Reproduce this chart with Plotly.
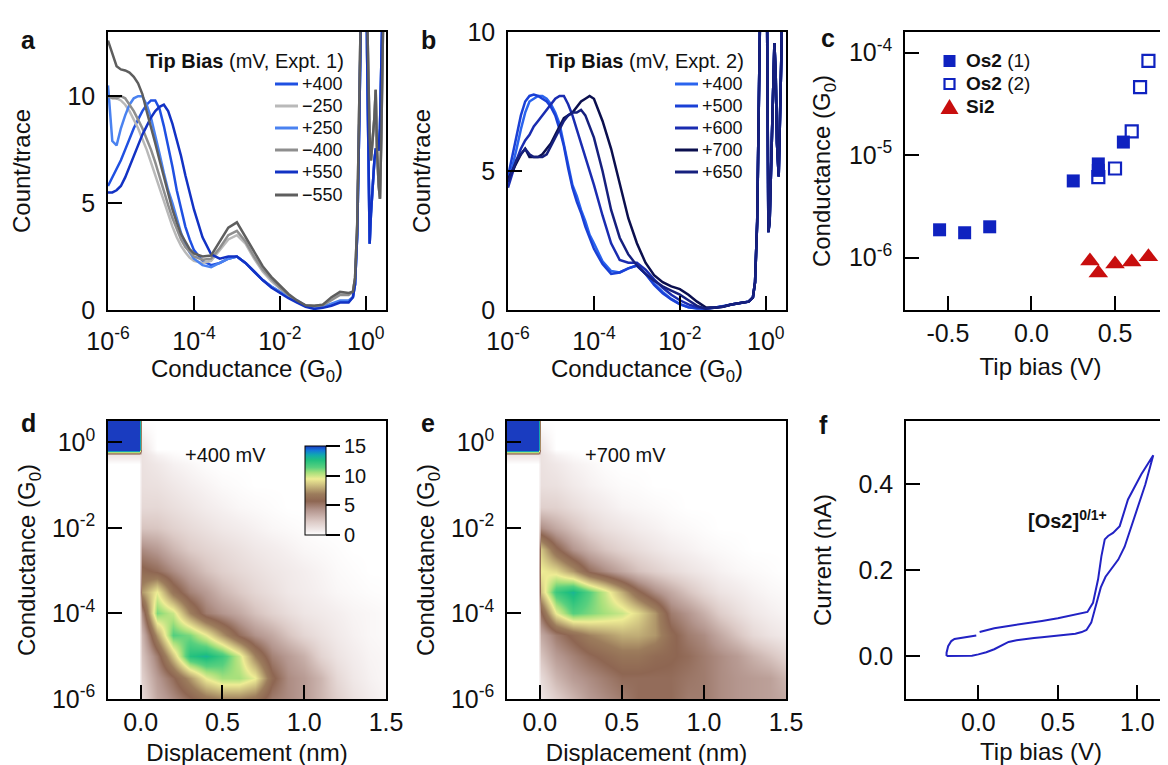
import plotly.graph_objects as go

FONT = "Liberation Sans, Arial, sans-serif"
W, H = 1168, 765

# ---------------- Panel a / b : conductance histograms ----------------
A_LOG = [-6.0, -5.9, -5.8, -5.7, -5.6, -5.5, -5.4, -5.3, -5.2, -5.1, -5.0, -4.9, -4.8, -4.7, -4.6, -4.5, -4.4, -4.3, -4.2, -4.1, -4.0,
         -3.8, -3.6, -3.4, -3.2, -3.0, -2.8, -2.6, -2.4, -2.2, -2.0, -1.8, -1.6, -1.4, -1.2, -1.0, -0.8, -0.6, -0.4,
         -0.3, -0.25, -0.2, -0.15, -0.1, -0.05, 0.0, 0.03, 0.06, 0.09, 0.12, 0.16, 0.2, 0.23, 0.26, 0.3, 0.33, 0.36, 0.4, 0.47]

A_BLUE_TAIL = [0.6, 1.2, 3.5, 9, 16, 22, 20, 12, 6, 3.1, 4.5, 6, 7, 7.5, 7.5, 7.5, 8.5, 11, 15, 22]
A_GRAY_TAIL = [0.85, 1.5, 4, 10, 16, 22, 20, 14, 10, 8, 7, 8, 9, 10.3, 7.5, 5.8, 5.2, 8, 14, 22]

A_P400 = [5.8, 6.2, 6.6, 7.0, 7.5, 8.0, 8.5, 8.9, 9.3, 9.6, 9.8, 9.8, 9.4, 8.6, 7.7, 6.7, 5.6, 4.7, 3.9, 3.3, 2.8,
          2.3, 2.1, 2.2, 2.4, 2.5, 2.2, 1.8, 1.4, 1.1, 0.85, 0.6, 0.4, 0.2, 0.1, 0.15, 0.25, 0.4, 0.4]
A_M250 = [10.0, 10.0, 9.9, 9.8, 9.6, 9.3, 8.9, 8.5, 8.0, 7.5, 6.9, 6.3, 5.6, 5.0, 4.4, 3.9, 3.4, 3.0, 2.7, 2.45, 2.3,
          2.2, 2.3, 2.8, 3.3, 3.5, 3.1, 2.4, 1.8, 1.35, 1.0, 0.65, 0.38, 0.2, 0.2, 0.25, 0.5, 0.75, 0.75]
A_P250 = [10.5, 7.9, 7.7, 8.5, 9.1, 9.6, 9.9, 10.0, 10.0, 9.6, 9.0, 8.2, 7.3, 6.4, 5.6, 5.0, 4.3, 3.6, 3.1, 2.7, 2.4,
          2.1, 2.0, 2.2, 2.4, 2.5, 2.2, 1.8, 1.4, 1.1, 0.85, 0.6, 0.45, 0.2, 0.12, 0.15, 0.3, 0.45, 0.45]
A_M400 = [10.0, 9.9, 9.9, 10.0, 9.9, 9.6, 9.3, 8.9, 8.5, 8.0, 7.5, 6.9, 6.2, 5.5, 4.9, 4.3, 3.8, 3.3, 2.95, 2.7, 2.5,
          2.35, 2.4, 2.9, 3.5, 3.7, 3.2, 2.5, 1.9, 1.45, 1.05, 0.7, 0.4, 0.2, 0.18, 0.22, 0.45, 0.7, 0.7]
A_P550 = [5.5, 5.5, 5.6, 5.8, 6.2, 6.7, 7.2, 7.7, 8.2, 8.6, 9.0, 9.3, 9.5, 9.6, 9.3, 8.7, 8.0, 7.2, 6.3, 5.5, 4.7,
          3.4, 2.6, 2.4, 2.5, 2.5, 2.2, 1.8, 1.4, 1.05, 0.8, 0.55, 0.35, 0.15, 0.05, 0.1, 0.2, 0.35, 0.35]
A_M550 = [12.6, 12.0, 11.4, 11.25, 11.2, 11.1, 10.9, 10.6, 10.1, 9.3, 8.6, 7.8, 7.0, 6.2, 5.4, 4.7, 4.1, 3.55, 3.2, 2.85, 2.65,
          2.5, 2.55, 3.2, 3.85, 4.1, 3.4, 2.7, 2.05, 1.55, 1.15, 0.75, 0.45, 0.22, 0.2, 0.25, 0.6, 0.85, 0.8]

A_NAMES = ["+400", "\u2212250", "+250", "\u2212400", "+550", "\u2212550"]
A_COLORS = ["#1f50e2", "#b9b9b9", "#4a82f0", "#8e8e8e", "#1232c4", "#5e5e5e"]

B_TAIL = [0.45, 1.0, 3.2, 8.5, 15, 20, 18, 9, 2.8, 3.2, 5, 8, 9.6, 8.5, 6, 4.8, 6.5, 9, 13, 18]
B_P400 = [4.5, 5.1, 5.8, 6.5, 7.1, 7.5, 7.6, 7.7, 7.7, 7.6, 7.4, 7.1, 6.7, 6.0, 5.3, 4.5, 4.1, 3.6, 3.2, 2.7, 2.4,
          1.75, 1.4, 1.35, 1.5, 1.6, 1.3, 0.95, 0.65, 0.4, 0.22, 0.1, 0.06, 0.05, 0.08, 0.15, 0.2, 0.25, 0.3]
B_P500 = [4.8, 5.5, 6.3, 7.0, 7.5, 7.7, 7.75, 7.7, 7.6, 7.5, 7.3, 7.0, 6.5, 5.9, 5.1, 4.4, 3.9, 3.5, 3.0, 2.6, 2.2,
          1.65, 1.3, 1.35, 1.5, 1.6, 1.3, 0.9, 0.6, 0.38, 0.2, 0.1, 0.05, 0.05, 0.08, 0.13, 0.2, 0.25, 0.3]
B_P600 = [4.4, 4.9, 5.4, 5.8, 6.1, 6.3, 6.6, 6.8, 7.0, 7.2, 7.4, 7.6, 7.7, 7.7, 7.4, 7.0, 6.5, 6.0, 5.5, 5.0, 4.5,
          3.4, 2.4, 1.8, 1.7, 1.7, 1.45, 1.1, 0.8, 0.55, 0.35, 0.2, 0.1, 0.05, 0.08, 0.12, 0.2, 0.25, 0.3]
B_P700 = [4.7, 5.0, 5.3, 5.6, 5.8, 5.5, 5.5, 5.5, 5.6, 5.8, 6.0, 6.3, 6.6, 6.9, 7.0, 7.1, 7.3, 7.5, 7.6, 7.7, 7.6,
          6.8, 5.8, 4.5, 3.3, 2.4, 1.7, 1.25, 1.0, 0.85, 0.75, 0.55, 0.3, 0.1, 0.08, 0.12, 0.2, 0.25, 0.3]
B_P650 = [4.6, 5.0, 5.4, 5.6, 5.8, 5.6, 5.5, 5.5, 5.5, 5.6, 5.9, 6.2, 6.5, 6.8, 7.0, 7.1, 7.1, 7.2, 7.0, 6.6, 6.2,
          5.0, 3.6, 2.6, 2.0, 1.6, 1.3, 1.05, 0.85, 0.7, 0.55, 0.35, 0.15, 0.05, 0.08, 0.12, 0.2, 0.25, 0.3]
B_NAMES = ["+400", "+500", "+600", "+700", "+650"]
B_COLORS = ["#2a64ee", "#1a40d6", "#1a2cb0", "#0b0f4e", "#16207e"]

# ---------------- Panel c : peak conductance vs bias ----------------
C_OS1_V = [-0.55, -0.40, -0.25, 0.25, 0.40, 0.40, 0.55]
C_OS1_G = [1.87e-6, 1.75e-6, 2.0e-6, 5.6e-6, 8.2e-6, 7.1e-6, 1.34e-5]
C_OS2_V = [0.40, 0.50, 0.60, 0.65, 0.70]
C_OS2_G = [6.1e-6, 7.4e-6, 1.7e-5, 4.6e-5, 8.3e-5]
C_SI_V = [0.35, 0.40, 0.50, 0.60, 0.70]
C_SI_G = [9.3e-7, 7.1e-7, 8.7e-7, 9.1e-7, 1.02e-6]
C_NAMES = ["<b>Os2</b> (1)", "<b>Os2</b> (2)", "<b>Si2</b>"]

# ---------------- Panels d / e : 2D histograms (coarse grid) ----------------
D_X = [-0.2, -0.1, -0.01, 0.01, 0.1, 0.2, 0.3, 0.4, 0.5, 0.6, 0.7, 0.8, 0.9, 1.0, 1.1, 1.2, 1.3, 1.4, 1.5]
D_LOGG = [-6.0, -5.5, -5.0, -4.5, -4.0, -3.5, -3.0, -2.5, -2.0, -1.5, -1.0, -0.5, -0.3, -0.15, 0.5]
D_Z = [
    [0, 0, 0, 1.5, 3.5, 4.5, 5.5, 6.5, 7, 7, 6.5, 5, 4.5, 4, 3, 2, 1.2, 0.7, 0.4],
    [0, 0, 0, 2, 4, 5.5, 7.5, 9.5, 10.5, 10.5, 9.5, 6, 4.5, 4, 3, 1.6, 0.9, 0.5, 0.3],
    [0, 0, 0, 2.5, 5, 8.5, 12.5, 13, 12, 10, 7, 4.8, 4, 3.2, 1.8, 1.1, 0.7, 0.4, 0.3],
    [0, 0, 0, 3, 7.5, 11.5, 11, 9.5, 7.5, 5.5, 4.3, 3.5, 2.5, 1.7, 1.2, 0.8, 0.5, 0.3, 0.2],
    [0, 0, 0, 4.5, 11, 10, 7, 5, 4.2, 3.5, 2.6, 1.9, 1.4, 1.0, 0.8, 0.6, 0.4, 0.3, 0.2],
    [0, 0, 0, 7.5, 9.5, 6.5, 4.8, 4, 3, 2.3, 1.7, 1.3, 0.9, 0.7, 0.5, 0.3, 0.2, 0.1, 0.05],
    [0, 0, 0, 6, 5.5, 4.5, 3.5, 2.6, 2.0, 1.6, 1.3, 1.0, 0.8, 0.6, 0.4, 0.2, 0.1, 0, 0],
    [0, 0, 0, 4.5, 4, 3, 2.2, 1.8, 1.5, 1.2, 0.9, 0.7, 0.5, 0.3, 0.2, 0.1, 0, 0, 0],
    [0, 0, 0, 2.5, 2.4, 1.9, 1.5, 1.2, 0.9, 0.7, 0.5, 0.3, 0.2, 0.1, 0, 0, 0, 0, 0],
    [0, 0, 0, 1.6, 1.6, 1.3, 1.0, 0.7, 0.5, 0.3, 0.2, 0.1, 0, 0, 0, 0, 0, 0, 0],
    [0, 0, 0, 1.3, 1.2, 0.9, 0.6, 0.4, 0.2, 0.1, 0, 0, 0, 0, 0, 0, 0, 0, 0],
    [0, 0, 0, 1.2, 0.9, 0.5, 0.3, 0.1, 0, 0, 0, 0, 0, 0, 0, 0, 0, 0, 0],
    [1, 1, 1, 1.2, 0.5, 0.2, 0, 0, 0, 0, 0, 0, 0, 0, 0, 0, 0, 0, 0],
    [20, 20, 20, 1, 0, 0, 0, 0, 0, 0, 0, 0, 0, 0, 0, 0, 0, 0, 0],
    [20, 20, 20, 0, 0, 0, 0, 0, 0, 0, 0, 0, 0, 0, 0, 0, 0, 0, 0],
]
E_Z = [
    [0, 0, 0, 1, 2, 3, 4, 4.5, 5, 5.5, 5.5, 5.5, 5, 5, 4.5, 4.2, 4, 3.8, 3.5],
    [0, 0, 0, 1.5, 3, 4, 4.5, 5, 5.5, 5.5, 5.5, 5.5, 5.2, 5, 4.5, 4.2, 4, 3.8, 3],
    [0, 0, 0, 2.5, 4, 4.8, 5.5, 6, 6.5, 6.5, 6, 5.8, 5.5, 5, 4.5, 4, 3.2, 2.5, 1.8],
    [0, 0, 0, 3.5, 5, 6, 7, 7.5, 8, 8, 7.5, 6, 5, 4.5, 3.5, 2.5, 1.6, 1.1, 0.8],
    [0, 0, 0, 5.5, 9.5, 11.5, 11, 10.5, 10, 9, 7.5, 5, 4.2, 3.2, 2.1, 1.4, 0.9, 0.6, 0.4],
    [0, 0, 0, 8.5, 12, 13, 11.5, 10, 8, 6, 4.5, 3.5, 2.5, 1.7, 1.1, 0.8, 0.5, 0.3, 0.2],
    [0, 0, 0, 9.5, 9, 7.5, 5.5, 4.5, 3.5, 2.6, 2.0, 1.5, 1.1, 0.8, 0.5, 0.3, 0.2, 0.1, 0],
    [0, 0, 0, 8.5, 6, 4.2, 3.2, 2.4, 1.8, 1.4, 1.0, 0.7, 0.5, 0.3, 0.2, 0.1, 0, 0, 0],
    [0, 0, 0, 4.5, 3.5, 2.6, 1.8, 1.3, 1.0, 0.7, 0.5, 0.3, 0.2, 0.1, 0, 0, 0, 0, 0],
    [0, 0, 0, 2, 1.9, 1.4, 1.0, 0.7, 0.4, 0.3, 0.2, 0.1, 0, 0, 0, 0, 0, 0, 0],
    [0, 0, 0, 1.3, 1.2, 0.8, 0.5, 0.3, 0.15, 0.1, 0, 0, 0, 0, 0, 0, 0, 0, 0],
    [0, 0, 0, 1.2, 0.9, 0.5, 0.3, 0.1, 0, 0, 0, 0, 0, 0, 0, 0, 0, 0, 0],
    [1, 1, 1, 1.2, 0.5, 0.2, 0, 0, 0, 0, 0, 0, 0, 0, 0, 0, 0, 0, 0],
    [20, 20, 20, 1, 0, 0, 0, 0, 0, 0, 0, 0, 0, 0, 0, 0, 0, 0, 0],
    [20, 20, 20, 0, 0, 0, 0, 0, 0, 0, 0, 0, 0, 0, 0, 0, 0, 0, 0],
]
COLORSCALE = [[0.0, "#ffffff"], [0.04, "#f4eeee"], [0.15, "#dccac6"], [0.28, "#b4968e"],
              [0.38, "#8e6652"], [0.46, "#9c7c5c"], [0.55, "#c8b87c"], [0.63, "#eeec94"],
              [0.70, "#a8e07c"], [0.76, "#58d07e"], [0.84, "#22c07e"], [0.90, "#10a8b0"],
              [0.95, "#1478d8"], [1.0, "#1a3cc0"]]

# ---------------- Panel f : cyclic voltammogram ----------------
F_V = [-0.20, -0.15, -0.09, -0.04, 0.00, 0.05, 0.10, 0.15, 0.19, 0.24, 0.29, 0.35, 0.40, 0.45, 0.50, 0.55, 0.61,
       0.65, 0.68, 0.71, 0.74, 0.77, 0.80, 0.84, 0.88, 0.92, 0.96, 1.00, 1.05, 1.10,
       1.025, 0.941, 0.889, 0.847, 0.816, 0.795, 0.774, 0.753, 0.721, 0.686, 0.65, 0.60, 0.50, 0.40, 0.30, 0.20,
       0.10, 0.008, None, -0.013, -0.06, -0.11, -0.15, -0.17, -0.19, -0.20, -0.20]
F_I = [0.000, 0.000, 0.000, 0.001, 0.004, 0.009, 0.016, 0.025, 0.033, 0.037, 0.040, 0.042, 0.044, 0.046, 0.048,
       0.050, 0.052, 0.056, 0.061, 0.078, 0.12, 0.16, 0.185, 0.205, 0.225, 0.255, 0.298, 0.345, 0.40, 0.468,
       0.424, 0.365, 0.303, 0.287, 0.280, 0.272, 0.233, 0.179, 0.124, 0.103, 0.100, 0.096, 0.088, 0.082, 0.077,
       0.071, 0.065, 0.056, None, 0.048, 0.045, 0.043, 0.040, 0.035, 0.023, 0.008, 0.0]


def px_x(p):
    return p / W


def px_y(p):
    return 1 - p / H


TICK = 25
TITLE = 24

fig = go.Figure()

ax_x = [10 ** v for v in A_LOG]
for name, col, main, tail in zip(A_NAMES, A_COLORS,
                                 [A_P400, A_M250, A_P250, A_M400, A_P550, A_M550],
                                 [A_BLUE_TAIL, A_GRAY_TAIL, A_BLUE_TAIL, A_GRAY_TAIL, A_BLUE_TAIL, A_GRAY_TAIL]):
    fig.add_trace(go.Scatter(x=ax_x, y=main + tail, mode="lines", name=name, showlegend=False,
                             line=dict(color=col, width=2.5), xaxis="x", yaxis="y"))

for name, col, main in zip(B_NAMES, B_COLORS, [B_P400, B_P500, B_P600, B_P700, B_P650]):
    fig.add_trace(go.Scatter(x=ax_x, y=main + B_TAIL, mode="lines", name=name, showlegend=False,
                             line=dict(color=col, width=2.5), xaxis="x2", yaxis="y2"))

BLUE = "#0f22c0"
RED = "#c80e0e"
fig.add_trace(go.Scatter(x=C_OS1_V, y=C_OS1_G, mode="markers", name=C_NAMES[0], showlegend=False,
                         marker=dict(symbol="square", size=13, color=BLUE), xaxis="x3", yaxis="y3"))
fig.add_trace(go.Scatter(x=C_OS2_V, y=C_OS2_G, mode="markers", name=C_NAMES[1], showlegend=False,
                         marker=dict(symbol="square-open", size=12, color=BLUE, line=dict(width=2.2, color=BLUE)),
                         xaxis="x3", yaxis="y3"))
fig.add_trace(go.Scatter(x=C_SI_V, y=C_SI_G, mode="markers", name=C_NAMES[2], showlegend=False,
                         marker=dict(symbol="triangle-up", size=17, color=RED), xaxis="x3", yaxis="y3"))

fig.add_trace(go.Heatmap(x=D_X, y=D_LOGG, z=D_Z, coloraxis="coloraxis", zsmooth="best",
                         xaxis="x4", yaxis="y4", showlegend=False))
fig.add_trace(go.Heatmap(x=D_X, y=D_LOGG, z=E_Z, coloraxis="coloraxis", zsmooth="best",
                         xaxis="x5", yaxis="y5", showlegend=False))

fig.add_trace(go.Scatter(x=F_V, y=F_I, mode="lines", line=dict(color="#2222c4", width=2),
                         xaxis="x6", yaxis="y6", showlegend=False, connectgaps=False))


def axis(domain, anchor, rng, mirror=True, **kw):
    d = dict(domain=domain, anchor=anchor, range=rng, showline=True, linecolor="black", linewidth=1.5,
             mirror=mirror, ticks="inside", ticklen=14, tickwidth=1.5, tickcolor="black",
             showgrid=False, zeroline=False, automargin=False,
             tickfont=dict(size=TICK, color="#111", family=FONT))
    d.update(kw)
    return d


def ttl(text, standoff):
    return dict(text=text, font=dict(size=TITLE, color="#111", family=FONT), standoff=standoff)


dom_ax = [px_x(100), px_x(378)]
dom_bx = [px_x(500), px_x(778)]
dom_cx = [px_x(897), 1.0]
dom_dx = [px_x(100), px_x(378)]
dom_ex = [px_x(499), px_x(778)]
dom_fx = [px_x(898), 1.0]
dom_top = [px_y(302), px_y(24)]
dom_bot = [px_y(691), px_y(413)]

LOG_TV = [1e-6, 1e-4, 1e-2, 1]
LOG_TT = ["10<sup>-6</sup>", "10<sup>-4</sup>", "10<sup>-2</sup>", "10<sup>0</sup>"]
G_TITLE = "Conductance (G<sub>0</sub>)"

fig.update_layout(
    width=W, height=H, margin=dict(l=0, r=0, t=0, b=0),
    paper_bgcolor="white", plot_bgcolor="white", showlegend=False,
    font=dict(family=FONT, color="#111"),
    xaxis=axis(dom_ax, "y", [-6, 0.47], type="log", tickvals=LOG_TV, ticktext=LOG_TT,
               ticklabelstandoff=8, title=ttl(G_TITLE, 6)),
    yaxis=axis(dom_top, "x", [0, 13], tickvals=[0, 5, 10], ticklabelstandoff=6,
               title=ttl("Count/trace", 30)),
    xaxis2=axis(dom_bx, "y2", [-6, 0.47], type="log", tickvals=LOG_TV, ticktext=LOG_TT,
                ticklabelstandoff=8, title=ttl(G_TITLE, 6)),
    yaxis2=axis(dom_top, "x2", [0, 10], tickvals=[0, 5, 10], ticklabelstandoff=6,
                title=ttl("Count/trace", 30)),
    xaxis3=axis(dom_cx, "y3", [-0.757, 0.865], tickvals=[-0.5, 0, 0.5], ticktext=["-0.5", "0.0", "0.5"],
                ticklabelstandoff=0, title=ttl("Tip bias (V)", 12)),
    yaxis3=axis(dom_top, "x3", [-6.51, -3.8], type="log", mirror=False,
                tickvals=[1e-6, 1e-5, 1e-4], ticktext=["10<sup>-6</sup>", "10<sup>-5</sup>", "10<sup>-4</sup>"],
                ticklabelstandoff=6, title=ttl(G_TITLE, 11)),
    xaxis4=axis(dom_dx, "y4", [-0.2, 1.5], tickvals=[0, 0.5, 1.0, 1.5], ticktext=["0.0", "0.5", "1.0", "1.5"],
                ticklabelstandoff=0, title=ttl("Displacement (nm)", 9)),
    yaxis4=axis(dom_bot, "x4", [-6, 0.5], tickvals=[-6, -4, -2, 0], ticktext=LOG_TT,
                ticklabelstandoff=6, title=ttl(G_TITLE, 9)),
    xaxis5=axis(dom_ex, "y5", [-0.2, 1.5], tickvals=[0, 0.5, 1.0, 1.5], ticktext=["0.0", "0.5", "1.0", "1.5"],
                ticklabelstandoff=0, title=ttl("Displacement (nm)", 9)),
    yaxis5=axis(dom_bot, "x5", [-6, 0.5], tickvals=[-6, -4, -2, 0], ticktext=LOG_TT,
                ticklabelstandoff=6, title=ttl(G_TITLE, 9)),
    xaxis6=axis(dom_fx, "y6", [-0.455, 1.243], tickvals=[0, 0.5, 1.0], ticktext=["0.0", "0.5", "1.0"],
                ticklabelstandoff=0, title=ttl("Tip bias (V)", 8)),
    yaxis6=axis(dom_bot, "x6", [-0.1, 0.548], mirror=False, tickvals=[0, 0.2, 0.4],
                ticktext=["0.0", "0.2", "0.4"], ticklabelstandoff=6, title=ttl("Current (nA)", 20)),
    coloraxis=dict(cmin=0, cmax=15, colorscale=COLORSCALE,
                   colorbar=dict(x=px_x(297), xanchor="left", y=px_y(438), yanchor="top",
                                 lenmode="pixels", len=89, thickness=21, thicknessmode="pixels",
                                 xpad=0, ypad=0, outlinewidth=1, outlinecolor="black",
                                 ticks="outside", ticklen=14, tickwidth=1.5, tickcolor="black",
                                 tickvals=[0, 5, 10, 15], tickfont=dict(size=20, family=FONT, color="#111"))),
)

shapes = []
ann = []


def text(t, xp, yp, size, anchor="left", bold=False):
    ann.append(dict(text=("<b>%s</b>" % t) if bold else t, x=px_x(xp), y=px_y(yp), xref="paper", yref="paper",
                    showarrow=False, xanchor=anchor, yanchor="middle",
                    font=dict(size=size, family=FONT, color="#111")))


# manual legends (a, b)
LEG_ROWS = [76, 98, 120, 142, 164, 187]
for i, (name, col) in enumerate(zip(A_NAMES, A_COLORS)):
    yp = LEG_ROWS[i]
    shapes.append(dict(type="line", xref="paper", yref="paper", x0=px_x(267), x1=px_x(290),
                       y0=px_y(yp), y1=px_y(yp), line=dict(color=col, width=3)))
    text(name, 292, yp, 18)
for i, (name, col) in enumerate(zip(B_NAMES, B_COLORS)):
    yp = LEG_ROWS[i]
    shapes.append(dict(type="line", xref="paper", yref="paper", x0=px_x(667), x1=px_x(690),
                       y0=px_y(yp), y1=px_y(yp), line=dict(color=col, width=3)))
    text(name, 692, yp, 18)
text("<b>Tip Bias</b> (mV, Expt. 1)", 236.5, 53, 20, anchor="center")
text("<b>Tip Bias</b> (mV, Expt. 2)", 636.5, 53, 20, anchor="center")

# manual legend (c)
cx = 941.5
shapes.append(dict(type="rect", xref="paper", yref="paper", x0=px_x(cx - 6), x1=px_x(cx + 6),
                   y0=px_y(59), y1=px_y(47), fillcolor=BLUE, line=dict(width=0)))
shapes.append(dict(type="rect", xref="paper", yref="paper", x0=px_x(cx - 5), x1=px_x(cx + 5),
                   y0=px_y(81), y1=px_y(71), fillcolor="rgba(0,0,0,0)", line=dict(color=BLUE, width=2.2)))
shapes.append(dict(type="path", xref="paper", yref="paper",
                   path="M %f,%f L %f,%f L %f,%f Z" % (px_x(cx - 9), px_y(106), px_x(cx + 9), px_y(106),
                                                      px_x(cx), px_y(91)),
                   fillcolor=RED, line=dict(width=0)))
for name, yp in zip(C_NAMES, [53, 76, 99]):
    text(name, 956, yp, 19)

for letter, xp, yp in [("a", 20, 32), ("b", 420, 32), ("c", 820, 30), ("d", 20, 415), ("e", 420, 415), ("f", 815, 417)]:
    text(letter, xp, yp, 25, anchor="center", bold=True)
text("+400 mV", 217.5, 447, 20, anchor="center")
text("+700 mV", 617.5, 447, 20, anchor="center")
text("<b>[Os2]<sup>0/1+</sup></b>", 1018, 512, 20)

fig.update_layout(annotations=ann, shapes=shapes)

fig.write_html("out.html")
